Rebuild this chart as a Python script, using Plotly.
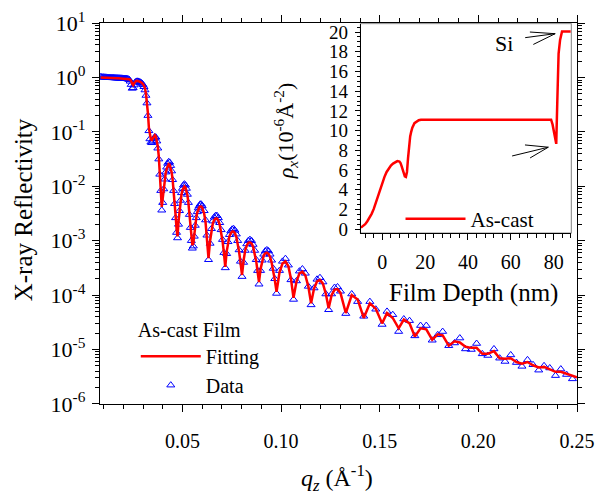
import numpy as np
import plotly.graph_objects as go

# ---------------- Reflectivity data (log10 of R) ----------------
q_values = [
    # total reflection plateau and critical edge
    0.0085, 0.0090, 0.0095, 0.0100, 0.0105, 0.0110, 0.0115, 0.0120, 0.0125, 0.0130,
    0.0135, 0.0140, 0.0145, 0.0150, 0.0155, 0.0160, 0.0165, 0.0170, 0.0175, 0.0180,
    0.0185, 0.0190, 0.0195, 0.0200, 0.0205, 0.0210, 0.0215, 0.0220, 0.0225, 0.0230,
    0.0235, 0.0240, 0.0245, 0.0250, 0.0255, 0.0260, 0.0265, 0.0270, 0.0275, 0.0280,
    0.0285, 0.0290, 0.0295, 0.0300, 0.0305, 0.0310, 0.0315, 0.0320, 0.0325, 0.0330,
    0.0335, 0.0340, 0.0345, 0.0350, 0.0355, 0.0360, 0.0365, 0.0370, 0.0375, 0.0380,
    0.0385, 0.0390, 0.0395,
    # first Kiessig fringes
    0.0400, 0.0405, 0.0410, 0.0415, 0.0420, 0.0425, 0.0430, 0.0435, 0.0440, 0.0445,
    0.0450, 0.0455, 0.0460, 0.0465, 0.0470, 0.0475, 0.0480, 0.0485, 0.0490, 0.0495,
    0.0500, 0.0505, 0.0510, 0.0515, 0.0520, 0.0525, 0.0530, 0.0535, 0.0540, 0.0545,
    0.0550, 0.0555, 0.0560, 0.0565, 0.0570, 0.0575, 0.0580, 0.0585, 0.0590, 0.0595,
    0.0600,
    0.0610, 0.0617, 0.0624, 0.0632, 0.0640, 0.0647, 0.0654, 0.0661, 0.0668, 0.0675,
    0.0682, 0.0689, 0.0696, 0.0703, 0.0710, 0.0717, 0.0724, 0.0731, 0.0738, 0.0745,
    0.0752, 0.0759, 0.0766, 0.0773, 0.0780, 0.0787, 0.0794, 0.0802, 0.0810, 0.0818,
    0.0826, 0.0834, 0.0842, 0.0850, 0.0858, 0.0866, 0.0874, 0.0881, 0.0888, 0.0896,
    0.0904, 0.0912, 0.0920, 0.0928, 0.0936, 0.0944, 0.0952, 0.0960, 0.0968, 0.0977,
    # damped fringes
    0.0992, 0.1007, 0.1022, 0.1037, 0.1050, 0.1063, 0.1078, 0.1093, 0.1108, 0.1123,
    0.1138, 0.1152, 0.1167, 0.1182, 0.1197, 0.1212, 0.1227, 0.1241, 0.1256, 0.1271,
    0.1286, 0.1301, 0.1328, 0.1358, 0.1388, 0.1419, 0.1450, 0.1480, 0.1512,
    0.1537, 0.1566, 0.1596, 0.1622, 0.1651, 0.1678, 0.1707, 0.1736, 0.1766, 0.1794,
    0.1819, 0.1850, 0.1879, 0.1906, 0.1935, 0.1964, 0.1991, 0.2020, 0.2048, 0.2079,
    0.2108, 0.2135, 0.2164, 0.2193, 0.2221, 0.2249, 0.2277, 0.2306, 0.2333, 0.2362,
    0.2391, 0.2418, 0.2447, 0.2477, 0.2500,
]

fit_log10 = [
    0.000, 0.000, 0.000, 0.000, -0.002, -0.003, -0.004, -0.005, -0.006, -0.007,
    -0.008, -0.009, -0.010, -0.010, -0.011, -0.012, -0.013, -0.013, -0.014, -0.015,
    -0.016, -0.017, -0.018, -0.019, -0.020, -0.021, -0.022, -0.024, -0.026, -0.030,
    -0.040, -0.065, -0.115, -0.140, -0.105, -0.075, -0.062, -0.060, -0.063, -0.070,
    -0.078, -0.088, -0.100, -0.120, -0.150, -0.200, -0.300, -0.440, -0.660, -0.930,
    -1.080, -1.140, -1.150, -1.120, -1.080, -1.060, -1.080, -1.150, -1.270, -1.450,
    -1.720, -2.020, -2.380,
    -2.22, -2.02, -1.88, -1.76, -1.68, -1.62, -1.59, -1.60, -1.65, -1.74,
    -1.87, -2.05, -2.27, -2.52, -2.78, -2.92, -2.65, -2.43, -2.27, -2.15,
    -2.07, -2.02, -2.00, -2.02, -2.07, -2.16, -2.30, -2.50, -2.72, -2.95,
    -3.08, -3.05, -2.86, -2.70, -2.58, -2.48, -2.42, -2.39, -2.37, -2.37,
    -2.39,
    -2.50, -2.66, -2.92, -3.32, -3.00, -2.80, -2.68, -2.62, -2.59, -2.59,
    -2.63, -2.71, -2.83, -3.00, -3.22, -3.48, -3.20, -3.02, -2.92, -2.86,
    -2.83, -2.83, -2.86, -2.93, -3.05, -3.20, -3.40, -3.63, -3.36, -3.18,
    -3.09, -3.04, -3.03, -3.05, -3.11, -3.22, -3.38, -3.57, -3.76, -3.52,
    -3.36, -3.27, -3.23, -3.22, -3.24, -3.30, -3.40, -3.54, -3.72, -3.94,
    -3.58, -3.42, -3.38, -3.47, -3.70, -4.05, -3.75, -3.60, -3.57, -3.64,
    -3.84, -4.15, -3.88, -3.75, -3.72, -3.79, -3.98, -4.24, -4.00, -3.90,
    -3.89, -3.96, -4.33, -4.00, -4.08, -4.42, -4.15, -4.25, -4.52,
    -4.33, -4.42, -4.61, -4.45, -4.52, -4.76, -4.61, -4.63, -4.82, -4.72,
    -4.74, -4.93, -4.85, -4.87, -4.95, -4.97, -4.97, -5.08, -5.08, -5.03,
    -5.16, -5.17, -5.16, -5.23, -5.26, -5.23, -5.29, -5.33, -5.32, -5.36,
    -5.41, -5.41, -5.45, -5.49, -5.51,
]

data_log10 = [
    0.010, 0.008, 0.005, 0.006, 0.004, 0.003, 0.002, 0.000, -0.001, -0.003,
    -0.004, -0.005, -0.006, -0.006, -0.008, -0.009, -0.010, -0.011, -0.012, -0.013,
    -0.014, -0.015, -0.016, -0.018, -0.019, -0.020, -0.022, -0.025, -0.030, -0.040,
    -0.070, -0.130, -0.200, -0.190, -0.140, -0.090, -0.075, -0.070, -0.072, -0.078,
    -0.085, -0.095, -0.110, -0.135, -0.170, -0.230, -0.330, -0.470, -0.700, -0.980,
    -1.130, -1.190, -1.200, -1.170, -1.120, -1.090, -1.100, -1.170, -1.300, -1.500,
    -1.780, -2.080, -2.440,
    -2.30, -2.05, -1.87, -1.74, -1.65, -1.58, -1.55, -1.56, -1.62, -1.72,
    -1.88, -2.08, -2.32, -2.58, -2.85, -2.95, -2.70, -2.45, -2.26, -2.12,
    -2.04, -1.98, -1.96, -1.98, -2.04, -2.15, -2.30, -2.52, -2.76, -3.00,
    -3.14, -3.10, -2.92, -2.72, -2.58, -2.47, -2.40, -2.36, -2.33, -2.33,
    -2.36,
    -2.45, -2.62, -2.90, -3.35, -3.05, -2.78, -2.64, -2.57, -2.54, -2.54,
    -2.58, -2.67, -2.80, -2.98, -3.22, -3.50, -3.24, -3.02, -2.89, -2.82,
    -2.79, -2.78, -2.81, -2.88, -3.00, -3.17, -3.38, -3.66, -3.40, -3.18,
    -3.06, -3.00, -2.98, -3.00, -3.07, -3.18, -3.35, -3.55, -3.80, -3.55,
    -3.36, -3.25, -3.19, -3.17, -3.19, -3.25, -3.36, -3.51, -3.70, -3.97,
    -3.55, -3.38, -3.33, -3.45, -3.72, -4.08, -3.74, -3.56, -3.52, -3.60,
    -3.84, -4.18, -3.87, -3.71, -3.68, -3.76, -3.98, -4.27, -3.98, -3.86,
    -3.85, -3.93, -4.34, -3.98, -4.12, -4.39, -4.12, -4.26, -4.54,
    -4.30, -4.36, -4.67, -4.44, -4.47, -4.75, -4.56, -4.56, -4.83, -4.73,
    -4.67, -4.93, -4.88, -4.79, -4.99, -5.00, -4.89, -5.08, -5.11, -4.99,
    -5.16, -5.22, -5.10, -5.24, -5.31, -5.19, -5.28, -5.38, -5.30, -5.34,
    -5.48, -5.36, -5.46, -5.54, None,
]

# ---------------- Scattering length density profile ----------------
depth_nm = [
    -10, -9, -8, -7, -6, -5, -4, -3, -2, -1, 0, 1, 2, 3, 4, 5, 6, 7, 8, 8.5,
    9, 9.5, 10, 10.5, 11, 11.5, 12, 12.5, 13, 13.5, 14, 15, 16, 17, 18,
    78.8, 79.5, 80.3, 81.2, 81.7, 82.3, 83.0, 83.9, 88,
]
sld = [
    0.15, 0.30, 0.50, 0.80, 1.15, 1.55, 2.05, 2.75, 3.45, 4.10, 4.70, 5.30, 5.80, 6.15,
    6.45, 6.65, 6.80, 6.90, 6.85, 6.70, 6.40, 6.00, 5.60, 5.35, 5.30, 5.80, 7.20, 8.50,
    9.40, 9.90, 10.30, 10.75, 10.95, 11.05, 11.10,
    11.10, 10.60, 9.60, 8.65, 13.00, 17.80, 19.20, 20.05, 20.05,
]

# ---------------- Axis ticks ----------------
y_decades = [-6, -5, -4, -3, -2, -1, 0, 1]
y_tick_text = ["10<sup>%d</sup>" % d if d >= 0 else "10<sup>-%d</sup>" % -d for d in y_decades]
x_tick_vals = [0.05, 0.10, 0.15, 0.20, 0.25]
x_tick_text = ["0.05", "0.10", "0.15", "0.20", "0.25"]
inset_x_ticks = [0, 20, 40, 60, 80]
inset_y_ticks = [0, 2, 4, 6, 8, 10, 12, 14, 16, 18, 20]

assert len(q_values) == len(fit_log10) == len(data_log10)
assert len(depth_nm) == len(sld)


def to_linear(logs):
    return [10 ** v if v is not None else None for v in logs]


y_major = [10.0 ** d for d in y_decades]
y_minor = [k * 10.0 ** d for d in y_decades[:-1] for k in range(2, 10)]

FONT = "Liberation Serif, Times New Roman, Times, serif"
BLUE = "#0000ff"
RED = "#ff0000"

fig = go.Figure()

fig.add_trace(go.Scatter(
    x=q_values, y=to_linear(data_log10), mode="markers", name="Data",
    marker=dict(symbol="triangle-up-open", size=7, color=BLUE, line=dict(width=1, color=BLUE)),
    legendrank=2,
))
fig.add_trace(go.Scatter(
    x=q_values, y=to_linear(fit_log10), mode="lines", name="Fitting",
    line=dict(color=RED, width=2.5), legendrank=1,
))
fig.add_trace(go.Scatter(
    x=depth_nm, y=sld, mode="lines", name="As-cast",
    line=dict(color=RED, width=2.5), xaxis="x2", yaxis="y2", legend="legend2",
))

axis_common = dict(showline=True, linecolor="black", linewidth=1.3, showgrid=False,
                   zeroline=False, ticks="outside", tickcolor="black", tickwidth=1.2,
                   automargin=False)

fig.update_layout(
    width=597, height=495,
    margin=dict(l=100, r=20, t=23, b=91),
    paper_bgcolor="white", plot_bgcolor="white",
    font=dict(family=FONT, color="black", size=20),
    xaxis=dict(
        **axis_common, range=[0.0082, 0.25], tickmode="array",
        tickvals=x_tick_vals, ticktext=x_tick_text, ticklen=7, mirror="allticks",
        minor=dict(dtick=0.01, tick0=0, ticks="outside", ticklen=4, tickwidth=1, tickcolor="black"),
        tickfont=dict(size=20, family=FONT), ticklabelstandoff=12,
    ),
    yaxis=dict(
        **axis_common, type="log", range=[-6.002, 1.002], tickmode="array",
        tickvals=y_major, ticktext=y_tick_text, ticklen=7, mirror="allticks",
        minor=dict(tickmode="array", tickvals=y_minor, ticks="outside", ticklen=4,
                   tickwidth=1, tickcolor="black"),
        tickfont=dict(size=22, family=FONT), ticklabelstandoff=2,
    ),
    xaxis2=dict(
        **axis_common, domain=[0.547, 0.987], anchor="y2", range=[-10, 88],
        tickmode="array", tickvals=inset_x_ticks, ticklen=6,
        minor=dict(dtick=4, tick0=0, ticks="outside", ticklen=4, tickwidth=1, tickcolor="black"),
        tickfont=dict(size=20, family=FONT), ticklabelstandoff=5,
    ),
    yaxis2=dict(
        **axis_common, domain=[0.45, 0.997], anchor="x2", range=[-0.35, 20.8],
        tickmode="array", tickvals=inset_y_ticks, ticklen=5,
        minor=dict(dtick=0.5, tick0=0, ticks="outside", ticklen=3, tickwidth=1, tickcolor="black"),
        tickfont=dict(size=19, family=FONT), ticklabelstandoff=3,
    ),
    legend=dict(
        x=0.075, y=0.245, xanchor="left", yanchor="top",
        title=dict(text="As-cast Film", font=dict(size=20, family=FONT)),
        font=dict(size=20, family=FONT), bgcolor="rgba(0,0,0,0)",
        itemwidth=60, tracegroupgap=0,
    ),
    legend2=dict(
        x=0.63, y=0.485, xanchor="left", yanchor="middle",
        font=dict(size=21, family=FONT), bgcolor="rgba(0,0,0,0)", itemwidth=60,
    ),
    showlegend=True,
)

# inset frame
fig.add_shape(type="rect", xref="x2 domain", yref="y2 domain", x0=0, x1=1, y0=0, y1=1,
              line=dict(color="#808080", width=2), fillcolor="white", layer="below")

# arrows marking the substrate and the buried interface
arrow_segments = [
    # Si arrow: shaft and two barbs
    ((66.7, 19.43), (80.7, 19.83)), ((68.9, 20.0), (80.7, 19.83)), ((70.5, 18.74), (80.7, 19.83)),
    # interface arrow
    ((60.6, 7.42), (77.5, 8.31)), ((66.6, 8.54), (77.5, 8.31)), ((69.0, 7.22), (77.5, 8.31)),
]
for (x0, y0), (x1, y1) in arrow_segments:
    fig.add_shape(type="line", xref="x2", yref="y2", x0=x0, y0=y0, x1=x1, y1=y1,
                  line=dict(color="black", width=1))

annotations = [
    dict(text="X-ray Reflectivity", x=-0.161, y=0.509, textangle=-90, font=dict(size=25)),
    dict(text="<i>q<sub>z</sub></i> (Å<sup>-1</sup>)", x=0.497, y=-0.194, font=dict(size=24)),
    dict(text="Film Depth (nm)", x=0.782, y=0.291, font=dict(size=25)),
    dict(text="<i>ρ<sub>x</sub></i>(10<sup>-6</sup>Å<sup>-2</sup>)", x=0.388, y=0.716,
         textangle=-90, font=dict(size=22)),
]
for a in annotations:
    fig.add_annotation(xref="paper", yref="paper", showarrow=False,
                       xanchor="center", yanchor="middle", **a)
fig.add_annotation(xref="x2", yref="y2", x=56.6, y=18.8, text="Si", showarrow=False,
                   font=dict(size=22), xanchor="center", yanchor="middle")

fig.write_html("out.html")
